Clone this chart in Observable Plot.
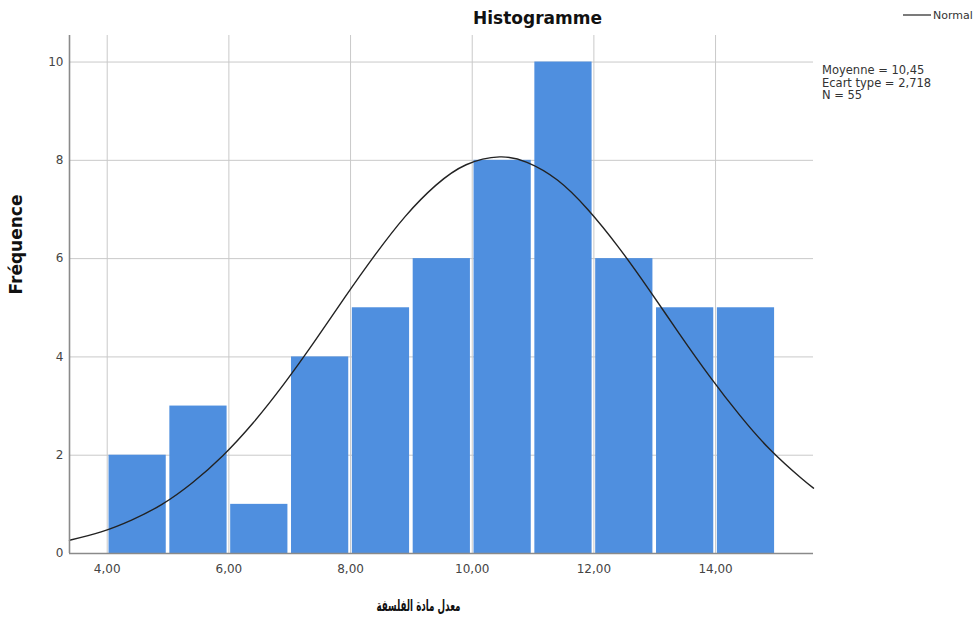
<!DOCTYPE html>
<html>
<head>
<meta charset="utf-8">
<script src="https://cdn.jsdelivr.net/npm/d3@7"></script>
<script src="https://cdn.jsdelivr.net/npm/@observablehq/plot@0.6"></script>
<style>
  html, body { margin: 0; padding: 0; background: #fff; }
</style>
</head>
<body>
<div id="chart"></div>
<script>
// ---- Data ----
const binStart = [4, 5, 6, 7, 8, 9, 10, 11, 12, 13, 14];
const binEnd   = [5, 6, 7, 8, 9, 10, 11, 12, 13, 14, 15];
const counts   = [2, 3, 1, 4, 5, 6, 8, 10, 6, 5, 5];

// Normal curve (Moyenne 10,45 ; Ecart type 2,718 ; N 55)
const curveX = [3.38, 3.9, 4.4, 4.9, 5.4, 5.9, 6.4, 6.9, 7.4, 7.9, 8.4, 8.9, 9.4, 9.9, 10.45, 10.9, 11.4, 11.9, 12.4, 12.9, 13.4, 13.9, 14.4, 14.9, 15.4, 15.61];
const curveY = [0.27, 0.44, 0.68, 1.00, 1.44, 1.99, 2.66, 3.44, 4.30, 5.20, 6.07, 6.86, 7.49, 7.91, 8.07, 7.96, 7.60, 7.00, 6.24, 5.38, 4.48, 3.61, 2.81, 2.11, 1.54, 1.33];

const xTicks = [4, 6, 8, 10, 12, 14];
const yTicks = [0, 2, 4, 6, 8, 10];

const titleText = "Histogramme";
const yLabel = "Fréquence";
const xLabel = "معدل مادة الفلسفة";
const statsLines = ["Moyenne = 10,45", "Ecart type = 2,718", "N = 55"];
const legendLabel = "Normal";

// ---- Tables built from the arrays ----
const bins = binStart.map((s, i) => ({x1: s, x2: binEnd[i], y: counts[i]}));
const curve = curveX.map((x, i) => ({x, y: curveY[i]}));

const xDomain = [3.38, 15.61];
const yDomain = [0, 10.54];

const chart = Plot.plot({
  width: 977,
  height: 621,
  marginLeft: 69,
  marginRight: 164,
  marginTop: 35,
  marginBottom: 68,
  style: {fontFamily: "'DejaVu Sans', sans-serif", background: "#fff", overflow: "visible"},
  x: {domain: xDomain},
  y: {domain: yDomain},
  marks: [
    Plot.gridY(yTicks, {stroke: "#c9c9c9", strokeOpacity: 1, strokeWidth: 1}),
    Plot.gridX(xTicks, {stroke: "#c9c9c9", strokeOpacity: 1, strokeWidth: 1}),
    Plot.rectY(bins, {x1: "x1", x2: "x2", y: "y", fill: "#4f8fdf", insetLeft: 1.8, insetRight: 1.8}),
    Plot.line(curve, {x: "x", y: "y", curve: "natural", stroke: "#222", strokeWidth: 1.4}),
    Plot.ruleX([xDomain[0]], {stroke: "#8a8a8a", strokeWidth: 1.6}),
    Plot.ruleY([0], {stroke: "#8a8a8a", strokeWidth: 1.6}),
    Plot.axisX(xTicks, {
      tickSize: 0, tickPadding: 11, label: null, fontSize: 12, fill: "#444",
      tickFormat: d => d.toFixed(2).replace(".", ",")
    }),
    Plot.axisY(yTicks, {tickSize: 0, tickPadding: 6, label: null, fontSize: 12, fill: "#444"}),
    Plot.text([titleText], {frameAnchor: "top", dx: 96, dy: -17, fontSize: 17, fontWeight: "bold", fill: "#111", lineAnchor: "middle"}),
    Plot.text([yLabel], {frameAnchor: "left", rotate: -90, dx: -53, fontSize: 17, fontWeight: "bold", fill: "#111", lineAnchor: "middle"}),
    Plot.text([xLabel], {frameAnchor: "bottom", dx: -23, dy: 52, fontSize: 16, fontWeight: "bold", fill: "#111", lineAnchor: "middle"}),
    Plot.text([statsLines.join("\n")], {frameAnchor: "top-right", textAnchor: "start", lineAnchor: "top", dx: 8.5, dy: 30, fontSize: 11.5, lineHeight: 1.08, fill: "#333"}),
    Plot.text([legendLabel], {frameAnchor: "top-right", textAnchor: "start", lineAnchor: "middle", dx: 119.5, dy: -20, fontSize: 11, fill: "#333"})
  ]
});

// legend swatch
d3.select(chart).append("line")
  .attr("x1", 903).attr("x2", 931).attr("y1", 15).attr("y2", 15)
  .attr("stroke", "#333").attr("stroke-width", 1.3);

// compress the Arabic axis title to the reference's width
d3.select(chart).selectAll("text")
  .filter(function() { return this.textContent === xLabel; })
  .attr("textLength", 84)
  .attr("lengthAdjust", "spacingAndGlyphs");

document.getElementById("chart").appendChild(chart);
</script>
</body>
</html>
